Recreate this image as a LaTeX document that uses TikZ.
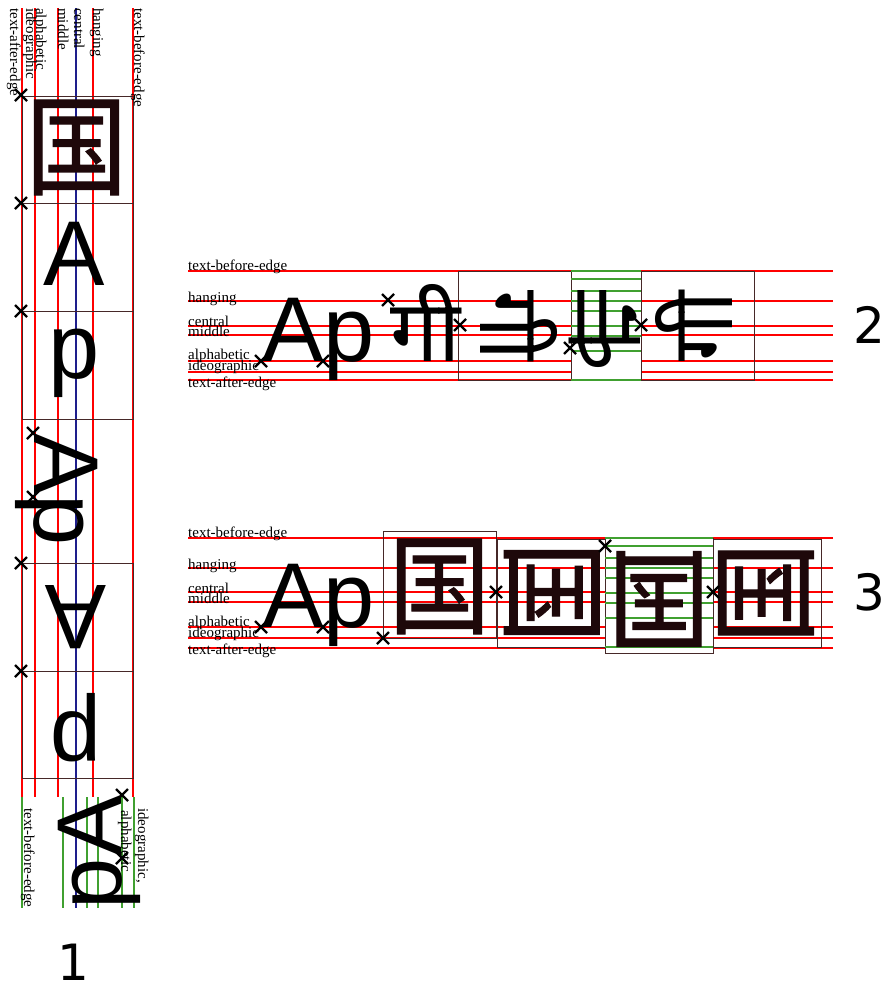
\documentclass[tikz,border=0pt]{standalone}
\usepackage{fontspec}
\usepackage{graphicx}
\setmainfont{Liberation Serif}
\newfontfamily\sansA{Liberation Sans}
\newfontfamily\numfont{DejaVu Sans}
\newfontfamily\cjkfont[FakeBold=1]{Noto Sans CJK SC}
\newfontfamily\devafont[Script=Devanagari]{Noto Sans}
\definecolor{glyphc}{RGB}{30,8,10}
\definecolor{boxc}{RGB}{70,40,40}
\definecolor{lgreen}{RGB}{64,160,48}
\definecolor{navyc}{RGB}{30,30,140}
\tikzset{
  redln/.style={red, line width=2.6},
  grnln/.style={lgreen, line width=2.6},
  blueln/.style={navyc, line width=2.4},
  emb/.style={draw=boxc, line width=1},
  lbl/.style={inner sep=0, font=\fontsize{15}{15}\selectfont},
  bigA/.style={inner sep=0, font=\sansA\fontsize{92}{92}\selectfont},
  cjk/.style={inner sep=0, text=glyphc, font=\cjkfont\fontsize{97}{97}\selectfont},
  deva/.style={inner sep=0, font=\devafont\fontsize{86}{86}\selectfont},
  num/.style={inner sep=0, font=\numfont\fontsize{50}{50}\selectfont},
  xmark/.pic={\draw[line width=2.4, black] (-6,-6) -- (6,6) (-6,6) -- (6,-6);}
}
\newcommand{\guo}{\scalebox{1.05}[1.12]{国}}
\begin{document}
\begin{tikzpicture}[x=1pt,y=-1pt]
\useasboundingbox (0,0) rectangle (885,985);
% ---------------- section 1 ----------------
\foreach \x in {22,35,58,93,133} \draw[redln] (\x,8) -- (\x,797);
\foreach \x in {22,63,87,98,122,134} \draw[grnln] (\x,797) -- (\x,908);
\draw[blueln] (76,8) -- (76,908);
\draw[emb] (22,96) rectangle (133,203);
\draw[emb] (22,203) rectangle (133,311);
\draw[emb] (22,311) rectangle (133,419);
\draw[emb] (22,563) rectangle (133,671);
\draw[emb] (22,671) rectangle (133,778);
\node[cjk] (g1) at (76.5,147.5) {\guo};
\node[bigA, anchor=base] (a1) at (74,285) {A};
\node[bigA, anchor=base] (p1) at (74,378) {p};
\node[bigA, rotate=-90, anchor=base west] (ap1) at (34,433) {Ap};
\node[bigA, rotate=180, anchor=base] (a2) at (76,585) {A};
\node[bigA, rotate=180, anchor=base] (p2) at (76,712) {p};
\node[bigA, rotate=90, anchor=base east] (a3) at (121,795) {A};
\node[bigA, rotate=90, anchor=base east] (p3) at (121,858) {p};
\foreach \p in {(21,95),(21,203),(21,311),(33,433),(33,497),(21,563),(21,671),(122,795),(122,858)}
  \pic at \p {xmark};
\node[lbl, rotate=-90, anchor=base west] (l1a) at (10,8) {text-after-edge};
\node[lbl, rotate=-90, anchor=base west] (l1b) at (26,8) {ideographic};
\node[lbl, rotate=-90, anchor=base west] (l1c) at (36,8) {alphabetic};
\node[lbl, rotate=-90, anchor=base west] (l1d) at (58,8) {middle};
\node[lbl, rotate=-90, anchor=base west] (l1e) at (74,8) {central};
\node[lbl, rotate=-90, anchor=base west] (l1f) at (93,8) {hanging};
\node[lbl, rotate=-90, anchor=base west] (l1g) at (134,8) {text-before-edge};
\node[lbl, rotate=-90, anchor=base west] (l1h) at (24,808) {text-before-edge};
\node[lbl, rotate=-90, anchor=base west] (l1i) at (121,810) {alphabetic};
\node[lbl, rotate=-90, anchor=base west] (l1j) at (138,808) {ideographic,};
\node[num, anchor=base west] (n1) at (57,980) {1};
% ---------------- section 2 ----------------
\foreach \y in {271,301,326,335,361,372,380} \draw[redln] (188,\y) -- (833,\y);
\draw[emb] (458,271) rectangle (571,380);
\fill[white] (571,270) rectangle (641,381);
\draw[emb] (571,271) rectangle (641,380);
\foreach \y in {271,279,291,301,311,326,336,351,380} \draw[grnln] (571,\y) -- (641,\y);
\draw[emb] (641,271) rectangle (754,380);
\node[lbl, anchor=base west] (l2a) at (188,270) {text-before-edge};
\node[lbl, anchor=base west] (l2b) at (188,302) {hanging};
\node[lbl, anchor=base west] (l2c) at (188,326) {central};
\node[lbl, anchor=base west] (l2d) at (188,336) {middle};
\node[lbl, anchor=base west] (l2e) at (188,359) {alphabetic};
\node[lbl, anchor=base west] (l2f) at (188,370) {ideographic};
\node[lbl, anchor=base west] (l2g) at (188,387) {text-after-edge};
\node[bigA, anchor=base west] (ap2) at (262,361) {Ap};
\node[deva, anchor=base west] (d1) at (390,361) {गी};
\node[deva, rotate=-90, anchor=base west] (d2) at (480,290) {गी};
\node[deva, rotate=180, anchor=base west] (d3) at (641,290) {गी};
\node[deva, rotate=90, anchor=base west] (d4) at (732,362) {गी};
\foreach \p in {(261,361),(323,361),(388,300),(460,325),(570,348),(641,325)}
  \pic at \p {xmark};
\node[num, anchor=base west] (n2) at (853,343) {2};
% ---------------- section 3 ----------------
\foreach \y in {538,568,592,602,627,638,648} \draw[redln] (188,\y) -- (833,\y);
\draw[emb] (383,531) rectangle (496,638);
\draw[emb] (497,539) rectangle (605,647);
\fill[white] (605,537) rectangle (713,653);
\draw[emb] (605,538) rectangle (713,653);
\foreach \y in {538,546,558,568,578,593,603,618,647} \draw[grnln] (605,\y) -- (713,\y);
\draw[emb] (713,539) rectangle (821,647);
\node[lbl, anchor=base west] (l3a) at (188,537) {text-before-edge};
\node[lbl, anchor=base west] (l3b) at (188,569) {hanging};
\node[lbl, anchor=base west] (l3c) at (188,593) {central};
\node[lbl, anchor=base west] (l3d) at (188,603) {middle};
\node[lbl, anchor=base west] (l3e) at (188,626) {alphabetic};
\node[lbl, anchor=base west] (l3f) at (188,637) {ideographic};
\node[lbl, anchor=base west] (l3g) at (188,654) {text-after-edge};
\node[bigA, anchor=base west] (ap3) at (262,627) {Ap};
\node[cjk] (g2) at (439.5,586.5) {\guo};
\node[cjk, rotate=-90] (g3) at (551.7,592.5) {\guo};
\node[cjk, rotate=180] (g4) at (659,599) {\guo};
\node[cjk, rotate=90] (g5) at (766,593) {\guo};
\foreach \p in {(261,627),(323,627),(383,638),(496,592),(605,546),(713,592)}
  \pic at \p {xmark};
\node[num, anchor=base west] (n3) at (853,610) {3};
\end{tikzpicture}
\end{document}
